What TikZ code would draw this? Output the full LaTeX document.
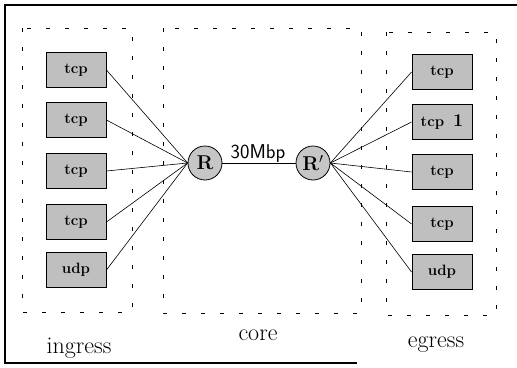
\documentclass[tikz,border=0pt]{standalone}
\usetikzlibrary{shapes.geometric}
\begin{document}
\begin{tikzpicture}[x=1pt,y=-1pt,
  flowbox/.style={rectangle,draw,line width=0.9pt,fill=gray!50,
    minimum width=60pt,minimum height=35pt,inner sep=0pt,
    font=\fontsize{15}{15}\selectfont\bfseries},
  router/.style={circle,draw,line width=0.8pt,fill=gray!45,
    minimum size=34pt,inner sep=0pt,font=\fontsize{20}{20}\selectfont\bfseries},
  region/.style={draw,line width=0.7pt,dash pattern=on 4pt off 15pt},
  zonelabel/.style={anchor=base,font=\fontsize{24}{24}\selectfont},
  link/.style={line width=0.6pt}]
\useasboundingbox (0,0) rectangle (517,367);

% outer frame
\draw[line width=1.1pt] (517,5) -- (5,5) -- (5,363) -- (357,363);

% regions
\draw[region] (22,28) rectangle (132,312);
\draw[region] (163,28) rectangle (361,313);
\draw[region] (386,32) rectangle (496,315);

% ingress flows
\node[flowbox] (i1) at (76,70)  {tcp};
\node[flowbox] (i2) at (76,120) {tcp};
\node[flowbox] (i3) at (76,171) {tcp};
\node[flowbox] (i4) at (76,222) {tcp};
\node[flowbox] (i5) at (76,270) {udp};

% egress flows
\node[flowbox] (e1) at (442,72)  {tcp};
\node[flowbox] (e2) at (442,122) {tcp\hspace{9pt}{\fontsize{18}{18}\selectfont 1}};
\node[flowbox] (e3) at (442,172) {tcp};
\node[flowbox] (e4) at (442,224) {tcp};
\node[flowbox] (e5) at (442,272) {udp};

% routers
\node[router] (r)  at (205,163) {R};
\node[router] (rp) at (313,163) {R$'$};

% bottleneck link
\draw[line width=1pt] (r) -- (rp);
\node[anchor=base,font=\fontsize{20}{20}\sffamily] (bw) at (258,158) {30Mbp};

% access links
\foreach \k in {1,...,5} {
  \draw[link] (i\k.east) -- (r.west);
  \draw[link] (e\k.west) -- (rp.east);
}

% region labels
\node[zonelabel] (lin)  at (79,353)  {ingress};
\node[zonelabel] (lcore) at (258,340) {core};
\node[zonelabel] (lout) at (436,347) {egress};
\end{tikzpicture}
\end{document}
